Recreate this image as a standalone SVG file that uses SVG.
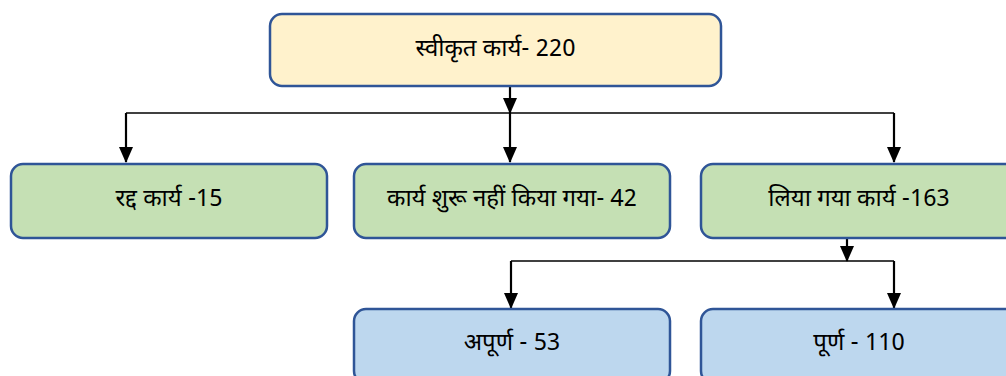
<svg xmlns="http://www.w3.org/2000/svg" width="1006" height="376" viewBox="0 0 1006 376">
  <style>
    .box { stroke: #2f5597; stroke-width: 2.5; }
    .top { fill: #fff2cc; }
    .green { fill: #c5e0b4; }
    .blue { fill: #bdd7ee; }
    .lbl { font-family: "Noto Sans Devanagari", "Nirmala UI", "Noto Sans", sans-serif; font-size: 24px; font-weight: normal; fill: #000; text-anchor: middle; }
    .arr { stroke: #000; stroke-width: 2.2; fill: none; marker-end: url(#ah); }
    .bar { stroke: #000; stroke-width: 1.5; fill: none; }
  </style>
  <defs>
    <marker id="ah" markerUnits="userSpaceOnUse" viewBox="0 0 16 14" refX="15" refY="7" markerWidth="16" markerHeight="14" orient="auto">
      <path d="M0,0 L16,7 L0,14 Z" fill="#000"/>
    </marker>
  </defs>

  <g id="connectors">
    <line class="arr" x1="510" y1="87" x2="510" y2="113"/>
    <line class="bar" x1="126" y1="113" x2="894" y2="113"/>
    <line class="arr" x1="126" y1="113" x2="126" y2="162"/>
    <line class="arr" x1="510" y1="113" x2="510" y2="162"/>
    <line class="arr" x1="894" y1="113" x2="894" y2="162"/>
    <line class="arr" x1="847" y1="239" x2="847" y2="261"/>
    <line class="bar" x1="511" y1="261" x2="894" y2="261"/>
    <line class="arr" x1="511" y1="261" x2="511" y2="308"/>
    <line class="arr" x1="894" y1="261" x2="894" y2="308"/>
  </g>

  <g id="n-accepted">
    <rect class="box top" x="270" y="14" width="451" height="72" rx="12"/>
    <text class="lbl" x="495.5" y="56">स्वीकृत कार्य- 220</text>
  </g>
  <g id="n-cancelled">
    <rect class="box green" x="11" y="164" width="316" height="74" rx="12"/>
    <text class="lbl" x="169" y="206">रद्द कार्य -15</text>
  </g>
  <g id="n-notstarted">
    <rect class="box green" x="354" y="164" width="316" height="74" rx="12"/>
    <text class="lbl" x="512" y="206">कार्य शुरू नहीं किया गया- 42</text>
  </g>
  <g id="n-taken">
    <rect class="box green" x="701" y="164" width="316" height="74" rx="12"/>
    <text class="lbl" x="859" y="206">लिया गया कार्य -163</text>
  </g>
  <g id="n-incomplete">
    <rect class="box blue" x="354" y="309" width="316" height="74" rx="12"/>
    <text class="lbl" x="512" y="350">अपूर्ण - 53</text>
  </g>
  <g id="n-complete">
    <rect class="box blue" x="701" y="309" width="316" height="74" rx="12"/>
    <text class="lbl" x="859" y="350">पूर्ण - 110</text>
  </g>
</svg>
